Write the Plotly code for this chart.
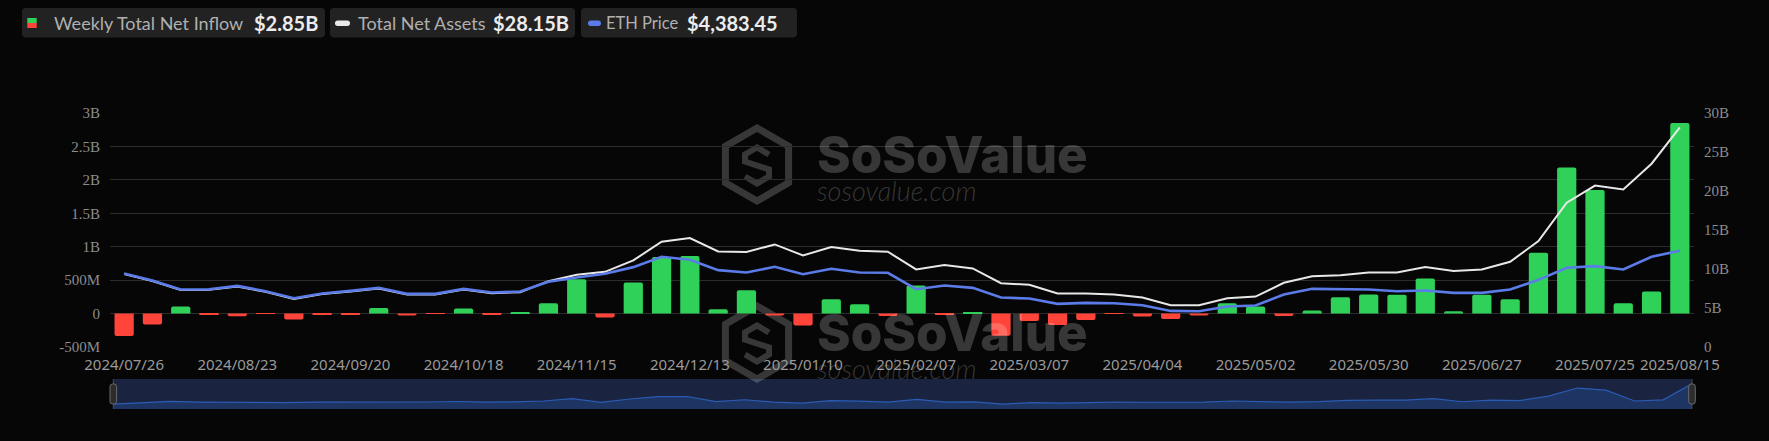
import pandas as pd
import plotly.graph_objects as go

# ---------------- data ----------------
WEEKS = [d.strftime("%Y/%m/%d") for d in pd.date_range("2024-07-26", periods=56, freq="7D")]
TICK_LABELS = ["2024/07/26", "2024/08/23", "2024/09/20", "2024/10/18", "2024/11/15",
               "2024/12/13", "2025/01/10", "2025/02/07", "2025/03/07", "2025/04/04",
               "2025/05/02", "2025/05/30", "2025/06/27", "2025/07/25", "2025/08/15"]

# Weekly total net inflow (billion USD)
inflow_b = [-0.335, -0.165, 0.105, -0.01, -0.04, -0.005, -0.09, -0.01, -0.02, 0.085,
            -0.03, -0.005, 0.075, -0.02, 0.02, 0.155, 0.515, -0.06, 0.465, 0.845,
            0.86, 0.065, 0.35, -0.03, -0.18, 0.215, 0.14, -0.035, 0.42, -0.02,
            0.01, -0.33, -0.11, -0.17, -0.095, -0.005, -0.045, -0.08, -0.03, 0.155,
            0.105, -0.035, 0.045, 0.245, 0.285, 0.28, 0.525, 0.035, 0.28, 0.215,
            0.91, 2.185, 1.85, 0.155, 0.33, 2.85]

# Total net assets (billion USD)
assets_b = [9.35, 8.45, 7.3, 7.33, 7.76, 7.07, 6.15, 6.78, 7.12, 7.5,
            6.73, 6.73, 7.37, 6.9, 7.03, 8.44, 9.25, 9.64, 11.1, 13.5,
            13.97, 12.25, 12.17, 13.15, 11.74, 12.81, 12.34, 12.21, 9.94, 10.5,
            10.07, 8.18, 7.97, 6.86, 6.86, 6.73, 6.34, 5.36, 5.36, 6.26,
            6.47, 8.23, 9.08, 9.21, 9.55, 9.55, 10.24, 9.73, 9.94, 10.93,
            13.58, 18.5, 20.7, 20.2, 23.5, 28.15]

# ETH price (USD)
eth_price = [3349, 3029, 2619, 2633, 2785, 2543, 2223, 2436, 2557, 2695,
             2420, 2420, 2649, 2481, 2527, 2969, 3166, 3334, 3638, 4110,
             3973, 3501, 3394, 3654, 3318, 3562, 3394, 3380, 2633, 2801,
             2695, 2253, 2207, 1964, 2010, 1994, 1903, 1644, 1629, 1842,
             1888, 2390, 2649, 2619, 2619, 2543, 2573, 2467, 2467, 2619,
             3060, 3607, 3683, 3532, 4110, 4383.45]

LEFT_TICKS = [-0.5e9, 0, 0.5e9, 1e9, 1.5e9, 2e9, 2.5e9, 3e9]
LEFT_TEXT = ["-500M", "0", "500M", "1B", "1.5B", "2B", "2.5B", "3B"]
RIGHT_TICKS = [0, 5e9, 10e9, 15e9, 20e9, 25e9, 30e9]
RIGHT_TEXT = ["0", "5B", "10B", "15B", "20B", "25B", "30B"]

# ---------------- style ----------------
W, H = 1769, 441
ML, MR, MT, MB = 110, 75, 113, 32
PW, PH = W - ML - MR, H - MT - MB
BG = "#060606"
GREEN, RED = "#30d158", "#ff453a"
WHITE_LINE, BLUE_LINE = "#e8e8e8", "#5b7ce8"
GRID = "#2c2c2c"
WM = "rgba(255,255,255,0.2)"
SHADOW_FLOOR = -1.1


def px(x):
    return (x - ML) / PW


def py(y):
    return (H - MB - y) / PH


def rrect(x0, y0, x1, y1, r):
    pts = [
        f"M {px(x0 + r)},{py(y0)}", f"L {px(x1 - r)},{py(y0)}",
        f"Q {px(x1)},{py(y0)} {px(x1)},{py(y0 + r)}", f"L {px(x1)},{py(y1 - r)}",
        f"Q {px(x1)},{py(y1)} {px(x1 - r)},{py(y1)}", f"L {px(x0 + r)},{py(y1)}",
        f"Q {px(x0)},{py(y1)} {px(x0)},{py(y1 - r)}", f"L {px(x0)},{py(y0 + r)}",
        f"Q {px(x0)},{py(y0)} {px(x0 + r)},{py(y0)}", "Z"]
    return " ".join(pts)


def poly(points, cx, cy, close=False):
    s = " ".join(("M" if i == 0 else "L") + f" {px(cx + a)},{py(cy + b)}" for i, (a, b) in enumerate(points))
    return s + (" Z" if close else "")


inflow = [v * 1e9 for v in inflow_b]
assets = [v * 1e9 for v in assets_b]
bar_colors = [GREEN if v >= 0 else RED for v in inflow_b]
shadow = [v - SHADOW_FLOOR for v in inflow_b]

fig = go.Figure()
fig.add_trace(go.Bar(x=WEEKS, y=inflow, marker=dict(color=bar_colors, line=dict(width=0), cornerradius=2),
                     xaxis="x", yaxis="y", name="Weekly Total Net Inflow"))
fig.add_trace(go.Scatter(x=WEEKS, y=assets, mode="lines", line=dict(color=WHITE_LINE, width=2),
                         xaxis="x", yaxis="y3", name="Total Net Assets"))
fig.add_trace(go.Scatter(x=WEEKS, y=eth_price, mode="lines", line=dict(color=BLUE_LINE, width=2.6),
                         xaxis="x", yaxis="y4", name="ETH Price"))
fig.add_trace(go.Scatter(x=WEEKS, y=shadow, mode="lines", line=dict(color="#2a5cb3", width=1.2),
                         fill="tozeroy", fillcolor="#1e3462", xaxis="x2", yaxis="y2"))

main_dom = [py(347), 1]
fig.update_layout(
    width=W, height=H, margin=dict(l=ML, r=MR, t=MT, b=MB),
    paper_bgcolor=BG, plot_bgcolor=BG, showlegend=False, bargap=0.32,
    xaxis=dict(type="category", range=[-0.5, len(WEEKS) - 0.5], tickmode="array",
               tickvals=TICK_LABELS, ticktext=TICK_LABELS, tickangle=0, showgrid=False,
               zeroline=False, showline=False, ticks="outside", ticklen=4, tickcolor="rgba(0,0,0,0)",
               tickfont=dict(family="Noto Sans", size=15, color="#9a9a9a"), anchor="y"),
    yaxis=dict(domain=main_dom, range=[-0.5e9, 3e9], tickmode="array", tickvals=LEFT_TICKS,
               ticktext=LEFT_TEXT, showgrid=True, gridcolor=GRID, gridwidth=1, zeroline=False,
               ticks="outside", ticklen=6, tickcolor="rgba(0,0,0,0)",
               tickfont=dict(family="Liberation Serif", size=15, color="#8c8c8c")),
    yaxis3=dict(overlaying="y", side="right", range=[0, 30e9], tickmode="array", tickvals=RIGHT_TICKS,
                ticktext=RIGHT_TEXT, showgrid=False, zeroline=False, ticks="outside", ticklen=6,
                tickcolor="rgba(0,0,0,0)", tickfont=dict(family="Liberation Serif", size=15, color="#8c8c8c")),
    yaxis4=dict(overlaying="y", range=[0, 10660], visible=False),
    xaxis2=dict(domain=[px(113), px(1692)], type="category", range=[0, len(WEEKS) - 1],
                visible=False, anchor="y2"),
    yaxis2=dict(domain=[0, py(379)], range=[0, 4.7], visible=False, anchor="x2"),
)

shapes = []
annotations = []

# slider background and handles
shapes.append(dict(type="rect", xref="paper", yref="paper", x0=px(113), x1=px(1692), y0=py(409), y1=py(379),
                   fillcolor="#1a2440", line=dict(width=0), layer="below"))
for hx in (113.3, 1692):
    shapes.append(dict(type="line", xref="paper", yref="paper", x0=px(hx), x1=px(hx), y0=py(409), y1=py(379),
                       line=dict(color="#4a4a4a", width=1)))
    shapes.append(dict(type="path", xref="paper", yref="paper", path=rrect(hx - 3.3, 384, hx + 3.3, 404, 2.5),
                       fillcolor="#2c2c2c", line=dict(color="#6a6a6a", width=1)))

# watermarks (two copies)
hexagon = [(0, -36.5), (31.6, -18.25), (31.6, 18.25), (0, 36.5), (-31.6, 18.25), (-31.6, -18.25)]
s_glyph = [(12, -10), (0, -17), (-12, -10), (-12, -3), (12, 5), (12, 12), (0, 19), (-12, 12)]
for dy in (0, 178):
    cx, cy = 757, 164.5 + dy
    shapes.append(dict(type="path", xref="paper", yref="paper", path=poly(hexagon, cx, cy, close=True),
                       line=dict(color=WM, width=7), fillcolor="rgba(0,0,0,0)", layer="below"))
    shapes.append(dict(type="path", xref="paper", yref="paper", path=poly(s_glyph, cx, cy),
                       line=dict(color=WM, width=6), fillcolor="rgba(0,0,0,0)", layer="below"))
    annotations.append(dict(xref="paper", yref="paper", x=px(815), y=py(154 + dy), xanchor="left",
                            yanchor="middle", showarrow=False, text="SoSoValue",
                            font=dict(family="Inter", size=51, color=WM, weight=800)))
    annotations.append(dict(xref="paper", yref="paper", x=px(815), y=py(190 + dy), xanchor="left",
                            yanchor="middle", showarrow=False, text="<i>sosovalue.com</i>",
                            font=dict(family="Lato", size=27, color=WM, weight=300)))

# header legend boxes
boxes = [(22, 325), (330, 575), (581, 797)]
for x0, x1 in boxes:
    shapes.append(dict(type="path", xref="paper", yref="paper", path=rrect(x0, 8, x1, 37.5, 4),
                       fillcolor="#222222", line=dict(width=0)))
shapes.append(dict(type="rect", xref="paper", yref="paper", x0=px(27.3), x1=px(36.7), y0=py(23), y1=py(18),
                   fillcolor=GREEN, line=dict(width=0)))
shapes.append(dict(type="rect", xref="paper", yref="paper", x0=px(27.3), x1=px(36.7), y0=py(28), y1=py(23),
                   fillcolor=RED, line=dict(width=0)))
shapes.append(dict(type="path", xref="paper", yref="paper", path=rrect(335, 20.5, 350, 26, 2.7),
                   fillcolor=WHITE_LINE, line=dict(width=0)))
shapes.append(dict(type="path", xref="paper", yref="paper", path=rrect(588, 20.5, 601, 26, 2.7),
                   fillcolor=BLUE_LINE, line=dict(width=0)))

legend_items = [
    (51.5, 252, 18, 20, "Weekly Total Net Inflow", f"${inflow_b[-1]:.2f}B"),
    (355.5, 491, 18, 20, "Total Net Assets", f"${assets_b[-1]:.2f}B"),
    (603.5, 685, 16.5, 20, "ETH Price", f"${eth_price[-1]:,.2f}"),
]
for xl, xv, fs, vs, label, val in legend_items:
    annotations.append(dict(xref="paper", yref="paper", x=px(xl), y=py(23.5), xanchor="left", yanchor="middle",
                            showarrow=False, text=label,
                            font=dict(family="Lato", size=fs, color="#b0b0b0")))
    annotations.append(dict(xref="paper", yref="paper", x=px(xv), y=py(23), xanchor="left", yanchor="middle",
                            showarrow=False, text=val,
                            font=dict(family="Lato", size=vs, color="#ececec", weight="bold")))

fig.update_layout(shapes=shapes, annotations=annotations)

fig.write_html("out.html", config={"displayModeBar": False},
               post_script="document.body.style.margin='0';document.body.style.background='#060606';document.body.style.overflow='hidden';")
